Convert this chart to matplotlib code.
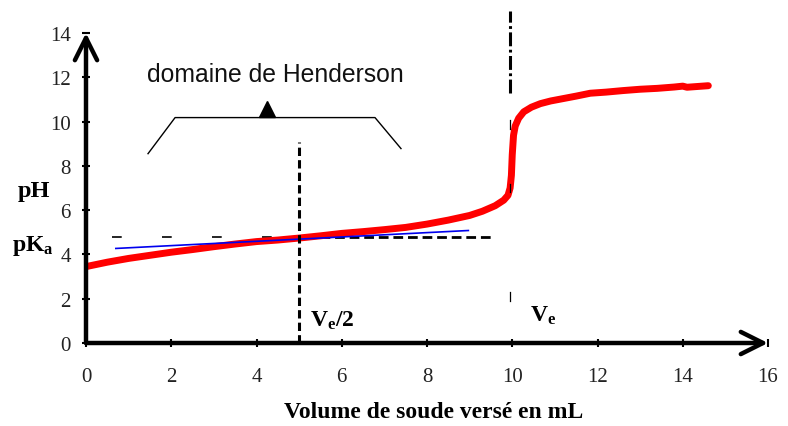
import matplotlib
matplotlib.use("Agg")
import matplotlib.pyplot as plt

plt.rcParams['lines.scale_dashes'] = False
plt.rcParams['mathtext.fontset'] = 'custom'
plt.rcParams['mathtext.rm'] = 'Liberation Serif'
plt.rcParams['mathtext.bf'] = 'Liberation Serif:bold'
plt.rcParams['mathtext.it'] = 'Liberation Serif:italic'

# ---- data ----
volume = [0, 0.5, 1, 1.5, 2, 2.5, 3, 3.5, 4, 4.5, 5, 5.5, 6, 6.5, 7, 7.5, 8, 8.5,
          9, 9.3, 9.6, 9.8, 9.9, 9.95, 9.98, 10.0, 10.03, 10.07, 10.15, 10.27,
          10.45, 10.66, 10.9, 11.2, 11.5, 11.83, 12.2, 12.6, 13.0, 13.4, 13.8,
          14.0, 14.1, 14.6]
ph = [3.45, 3.65, 3.82, 3.96, 4.1, 4.22, 4.35, 4.47, 4.58, 4.65, 4.74, 4.84,
      4.95, 5.03, 5.12, 5.22, 5.37, 5.55, 5.76, 5.95, 6.2, 6.45, 6.67, 7.0,
      7.57, 8.5, 9.38, 9.8, 10.15, 10.44, 10.65, 10.81, 10.93, 11.04, 11.15,
      11.28, 11.33, 11.4, 11.46, 11.5, 11.56, 11.6, 11.55, 11.62]

tangent_x = [0.7, 8.97]
tangent_y = [4.27, 5.08]

pka = 4.78
pka_sparse_x = [0.6, 4.4]
pka_dense_x = [5.5, 9.55]

ve = 9.95
half_ve = 5.0
half_ve_top = 9.1
ve_line_y = [11.3, 15.0]
ve_marks = [(9.68, 10.05), (6.83, 7.2), (1.9, 2.31)]

bracket_x = [1.455, 2.09, 6.78, 7.39]
bracket_y = [8.55, 10.18, 10.18, 8.78]
bracket_marker = (4.25, 10.55)

xticks = [0, 2, 4, 6, 8, 10, 12, 14, 16]
yticks = [0, 2, 4, 6, 8, 10, 12, 14]

# ---- figure ----
fig = plt.figure(figsize=(7.88, 4.27), dpi=100)
W, H = 788, 427
x0, x1, y0, y1 = 86, 768, 344, 34
ax = fig.add_axes([x0 / W, 1 - y0 / H, (x1 - x0) / W, (y0 - y1) / H])
ax.set_xlim(0, 16)
ax.set_ylim(0, 14)
for s in ax.spines.values():
    s.set_visible(False)

ax.set_xticks(xticks)
ax.set_yticks(yticks)
ax.tick_params(direction='inout', length=6, width=1.5, color='black',
               labelsize=15, labelcolor='#222222')
ax.tick_params(axis='x', pad=14)
ax.tick_params(axis='y', pad=8)
for lab in ax.get_xticklabels() + ax.get_yticklabels():
    lab.set_fontfamily('Liberation Serif')

# axes as arrows
arrow_kw = dict(arrowstyle='->,head_length=0.8,head_width=0.4', lw=3.2,
                color='black', shrinkA=0, shrinkB=0, mutation_scale=20)
ax.annotate('', xy=(0, 14), xytext=(0, 0), arrowprops=arrow_kw,
            annotation_clip=False, zorder=6)
ax.annotate('', xy=(16, 0), xytext=(0, 0), arrowprops=arrow_kw,
            annotation_clip=False, zorder=6)

# pKa dashed line
ax.plot(pka_sparse_x, [pka, pka], color='black', lw=1.2, dashes=(7, 29), zorder=2)
ax.plot(pka_dense_x, [pka, pka], color='black', lw=2, dashes=(7, 3.5), zorder=2)

# titration curve
ax.plot(volume, ph, color='#ff0000', lw=5, solid_capstyle='round',
        solid_joinstyle='round', zorder=3)

# tangent line
ax.plot(tangent_x, tangent_y, color='#0000ee', lw=1.2, zorder=4)

# Ve/2 vertical dashed
ax.plot([half_ve, half_ve], [0, half_ve_top], color='black', lw=2.2,
        dashes=(6, 3), zorder=5)

# Ve vertical dash-dot
ax.plot([ve, ve], ve_line_y, color='black', lw=2.2,
        dashes=(10, 2.5, 2, 2.5), zorder=5, clip_on=False)
for lo, hi in ve_marks:
    ax.plot([ve, ve], [lo, hi], color='black', lw=0.9, zorder=5)

# Henderson bracket
ax.plot(bracket_x, bracket_y, color='black', lw=1.0, zorder=4)
ax.plot([bracket_marker[0]], [bracket_marker[1]], marker='^', color='black',
        markersize=11, zorder=4)
ax.text(4.45, 12.17, 'domaine de Henderson', fontsize=17.8,
        family='Liberation Sans', ha='center', va='center', color='#111111')

# labels
ax.text(5.26, 1.1, r'$\mathbf{V_e/2}$', fontsize=17, ha='left', va='center')
ax.text(10.42, 1.3, r'$\mathbf{V_e}$', fontsize=17, ha='left', va='center')

fig.text(34 / W, 1 - 192 / H, 'pH', fontsize=17.5, fontweight='bold',
         family='Liberation Serif', ha='center', va='center')
fig.text(12 / W, 1 - 246 / H, r'$\mathbf{pK_a}$', fontsize=17,
         ha='left', va='center')
fig.text(434 / W, 1 - 413 / H, 'Volume de soude versé en mL', fontsize=17,
         fontweight='bold', family='Liberation Serif', ha='center', va='center')

fig.savefig('out.png', dpi=100)
